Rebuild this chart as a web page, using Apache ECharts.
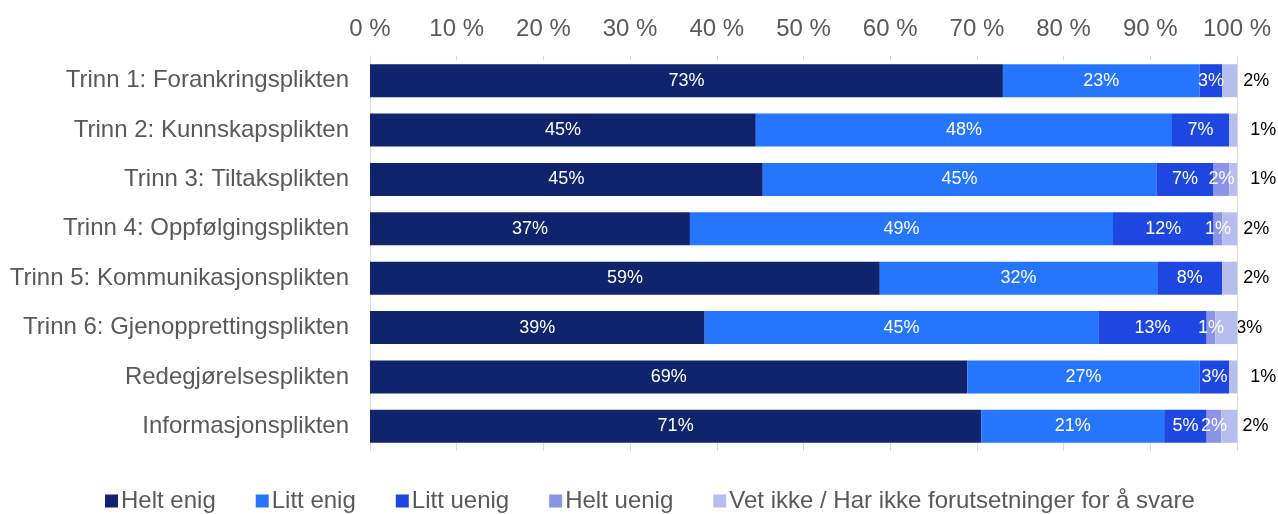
<!DOCTYPE html>
<html>
<head>
<meta charset="utf-8">
<script src="https://cdn.jsdelivr.net/npm/echarts@6/dist/echarts.min.js"></script>
<style>
html,body{margin:0;padding:0;background:#fff;}
#chart{width:1278px;height:514px;}
</style>
</head>
<body>
<div id="chart"></div>
<script>
const categories = [
  'Trinn 1: Forankringsplikten',
  'Trinn 2: Kunnskapsplikten',
  'Trinn 3: Tiltaksplikten',
  'Trinn 4: Oppfølgingsplikten',
  'Trinn 5: Kommunikasjonsplikten',
  'Trinn 6: Gjenopprettingsplikten',
  'Redegjørelsesplikten',
  'Informasjonsplikten'
];
const seriesNames = ['Helt enig', 'Litt enig', 'Litt uenig', 'Helt uenig', 'Vet ikke / Har ikke forutsetninger for å svare'];
const heltEnig  = [73.0, 44.5, 45.3, 36.9, 58.8, 38.6, 68.9, 70.5];
const littEnig  = [22.7, 48.0, 45.4, 48.8, 32.0, 45.4, 26.8, 21.1];
const littUenig = [2.6, 6.6, 6.6, 11.6, 7.5, 12.5, 3.4, 4.9];
const heltUenig = [0, 0, 1.8, 1.0, 0, 1.0, 0, 1.7];
const vetIkke   = [1.7, 0.9, 0.9, 1.7, 1.7, 2.5, 0.9, 1.8];
const xTicks = [0, 10, 20, 30, 40, 50, 60, 70, 80, 90, 100];

const colors = ['#0f246c', '#2575ff', '#1e46e0', '#8b94e6', '#b8bdf0'];
const values = [heltEnig, littEnig, littUenig, heltUenig, vetIkke];
const FONT = '"Liberation Sans", Arial, sans-serif';

const chart = echarts.init(document.getElementById('chart'), null, {renderer: 'canvas'});

const series = values.map((arr, i) => {
  const last = i === values.length - 1;
  const s = {
    name: seriesNames[i],
    type: 'bar',
    stack: 'total',
    xAxisIndex: 0,
    barWidth: 33,
    itemStyle: {color: colors[i]},
    data: arr,
    label: {
      show: true,
      fontFamily: FONT,
      fontSize: 18,
      color: last ? '#000' : '#fff',
      position: last ? 'insideLeft' : 'inside',
      offset: last ? [16, 0] : [0, 0],
      formatter: p => p.value > 0 ? Math.round(p.value) + '%' : ''
    },
    emphasis: {disabled: true}
  };
  if (last) {
    s.markLine = {
      silent: true,
      symbol: 'none',
      label: {show: false},
      lineStyle: {color: '#d9d9d9', type: 'solid', width: 1},
      data: [{xAxis: 100}]
    };
  }
  return s;
});

chart.setOption({
  animation: false,
  backgroundColor: '#fff',
  grid: {left: 370, right: 41, top: 56, bottom: 63},
  legend: {
    bottom: -4,
    left: 100,
    itemWidth: 13,
    itemHeight: 13,
    itemGap: 40,
    icon: 'rect',
    textStyle: {fontFamily: FONT, fontSize: 24, color: '#595959', padding: [0, 0, 0, -2]},
    data: seriesNames
  },
  xAxis: [
    {
      type: 'value', position: 'top', min: 0, max: 100, interval: 10,
      axisLine: {show: false},
      axisTick: {show: true, inside: true, length: 4, lineStyle: {color: '#d9d9d9'}},
      splitLine: {show: false},
      axisLabel: {fontFamily: FONT, fontSize: 24, color: '#595959', margin: 15,
        formatter: v => xTicks.indexOf(v) >= 0 ? v + ' %' : ''}
    },
    {
      type: 'value', position: 'bottom', min: 0, max: 100, interval: 10,
      axisLine: {show: false},
      axisTick: {show: true, inside: true, length: 8, lineStyle: {color: '#d9d9d9'}},
      splitLine: {show: false},
      axisLabel: {show: false}
    }
  ],
  yAxis: {
    type: 'category', inverse: true, data: categories,
    axisLine: {show: true, lineStyle: {color: '#d9d9d9'}},
    axisTick: {show: false},
    axisLabel: {fontFamily: FONT, fontSize: 24, color: '#595959', margin: 21}
  },
  series: series
});
</script>
</body>
</html>
